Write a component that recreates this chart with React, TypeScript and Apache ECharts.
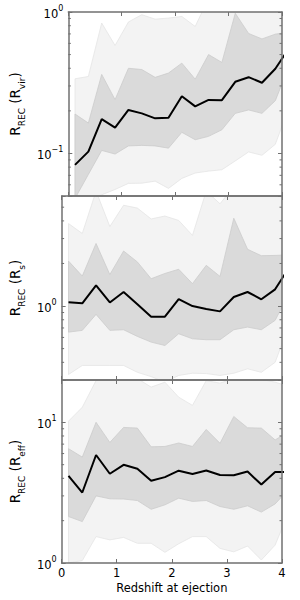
import React, { useEffect, useRef } from 'react';
import * as echarts from 'echarts';

// Redshift bin centres
const redshift = [0.125, 0.375, 0.625, 0.875, 1.125, 1.375, 1.625, 1.875, 2.125, 2.375, 2.625, 2.875, 3.125, 3.375, 3.625, 3.875, 4.125];
const xTicks = [0, 1, 2, 3, 4];

// Panel 1: R_REC in units of R_vir
const p1Median = [0.083, 0.103, 0.175, 0.152, 0.203, 0.192, 0.177, 0.179, 0.254, 0.215, 0.239, 0.238, 0.321, 0.346, 0.316, 0.397, 0.55];
const p1DarkUpper = [0.19, 0.164, 0.362, 0.24, 0.4, 0.392, 0.345, 0.37, 0.435, 0.335, 0.5, 0.44, 0.98, 0.705, 0.645, 0.697, 0.72];
const p1DarkLower = [0.048, 0.071, 0.105, 0.099, 0.113, 0.114, 0.113, 0.109, 0.141, 0.125, 0.132, 0.147, 0.192, 0.203, 0.192, 0.236, 0.41];
const p1LightUpper = [0.337, 0.35, 0.835, 0.58, 0.85, 0.957, 0.89, 0.906, 0.93, 0.79, 1.25, 1.3, 1.5, 1.5, 1.4, 1.4, 1.4];
const p1LightLower = [0.045, 0.046, 0.051, 0.0556, 0.0614, 0.0616, 0.0637, 0.0566, 0.0666, 0.0727, 0.075, 0.0767, 0.0885, 0.1025, 0.097, 0.116, 0.21];
const p1Range = [0.05, 1];
const p1Minor = [0.06, 0.07, 0.08, 0.09, 0.2, 0.3, 0.4, 0.5, 0.6, 0.7, 0.8, 0.9];

// Panel 2: R_REC in units of R_s
const p2Median = [1.062, 1.045, 1.4, 1.06, 1.257, 1.03, 0.841, 0.841, 1.12, 1.0, 0.952, 0.917, 1.158, 1.257, 1.116, 1.313, 1.86];
const p2DarkUpper = [2.08, 1.63, 2.77, 1.67, 2.45, 2.05, 1.56, 1.7, 1.82, 1.44, 1.94, 1.62, 4.18, 2.52, 2.27, 2.28, 2.3];
const p2DarkLower = [0.654, 0.673, 0.873, 0.673, 0.68, 0.61, 0.556, 0.526, 0.637, 0.587, 0.578, 0.578, 0.68, 0.71, 0.68, 0.792, 1.22];
const p2LightUpper = [3.83, 3.26, 6.5, 3.65, 5.16, 4.93, 4.13, 4.33, 4.03, 3.16, 6.5, 5.29, 7.0, 7.0, 6.6, 6.2, 5.5];
const p2LightLower = [0.328, 0.38, 0.38, 0.38, 0.38, 0.34, 0.317, 0.29, 0.323, 0.335, 0.333, 0.323, 0.335, 0.36, 0.34, 0.4, 0.73];
const p2Range = [0.3, 6];
const p2Minor = [0.4, 0.5, 0.6, 0.7, 0.8, 0.9, 2, 3, 4, 5];

// Panel 3: R_REC in units of R_eff
const p3Median = [4.17, 3.17, 5.86, 4.31, 4.99, 4.68, 3.84, 4.08, 4.53, 4.29, 4.55, 4.22, 4.2, 4.47, 3.61, 4.43, 4.43];
const p3DarkUpper = [6.5, 5.66, 10.0, 7.2, 9.2, 9.1, 6.7, 6.74, 7.13, 6.74, 8.9, 7.1, 11.0, 9.15, 9.1, 7.5, 8.6];
const p3DarkLower = [2.14, 1.97, 3.0, 2.86, 2.85, 2.78, 2.41, 2.59, 2.89, 2.74, 2.78, 2.52, 2.41, 2.55, 2.3, 2.63, 3.35];
const p3LightUpper = [10.2, 12.8, 19.8, 22, 21, 20.5, 17.8, 19.3, 15.1, 13.2, 19.8, 19, 20.5, 20.2, 20.2, 19.3, 18];
const p3LightLower = [1.0, 1.04, 1.54, 1.46, 1.52, 1.38, 1.38, 1.19, 1.37, 1.54, 1.54, 1.27, 1.2, 1.32, 1.05, 1.34, 2.32];
const p3Range = [1, 20];
const p3Minor = [2, 3, 4, 5, 6, 7, 8, 9];

const yNames = [
  ['R', 'REC', ' (R', 'vir', ')'],
  ['R', 'REC', ' (R', 's', ')'],
  ['R', 'REC', ' (R', 'eff', ')'],
];
const xName = 'Redshift at ejection';

const FRAME = '#707070';
const FONT = 'DejaVu Sans';
const LIGHT_FILL = '#f3f3f3';
const LIGHT_EDGE = '#e4e4e4';
const DARK_FILL = '#dadada';
const DARK_EDGE = '#cbcbcb';

function powLabel(v: number): string {
  const l = Math.log10(v);
  const e = Math.round(l);
  if (Math.abs(l - e) > 1e-6) return '';
  const exp = e < 0 ? '\u2212' + -e : String(e);
  return `{b|10}{s|${exp}}`;
}

export default function App() {
  const ref = useRef<HTMLDivElement>(null);
  useEffect(() => {
    if (!ref.current) return;
    const chart = echarts.init(ref.current, undefined, { renderer: 'svg' });

    const panels = [
      { median: p1Median, du: p1DarkUpper, dl: p1DarkLower, lu: p1LightUpper, ll: p1LightLower, range: p1Range, minor: p1Minor },
      { median: p2Median, du: p2DarkUpper, dl: p2DarkLower, lu: p2LightUpper, ll: p2LightLower, range: p2Range, minor: p2Minor },
      { median: p3Median, du: p3DarkUpper, dl: p3DarkLower, lu: p3LightUpper, ll: p3LightLower, range: p3Range, minor: p3Minor },
    ];
    const tops = [12, 196, 380];
    const heights = [184, 184, 183];

    const grid = panels.map((_, i) => ({ left: 54, right: 18, top: tops[i], height: heights[i], containLabel: false }));

    const xAxis: any[] = [];
    const yAxis: any[] = [];
    const series: any[] = [];

    panels.forEach((p, i) => {
      const common = {
        type: 'value',
        gridIndex: i,
        min: xTicks[0],
        max: xTicks[xTicks.length - 1],
        interval: 1,
        z: 10,
        splitLine: { show: false },
        axisLine: { show: true, onZero: false, lineStyle: { color: FRAME, width: 1.5 } },
        axisTick: { show: true, inside: true, length: 4, lineStyle: { color: FRAME, width: 1 } },
      };
      xAxis.push({
        ...common,
        position: 'bottom',
        axisLabel: { show: i === 2, margin: 4, fontSize: 11.5, fontFamily: FONT, color: '#000' },
        name: i === 2 ? xName : '',
        nameLocation: 'middle',
        nameGap: 19,
        nameTextStyle: { fontSize: 11.5, fontFamily: FONT, color: '#000' },
      });
      xAxis.push({ ...common, position: 'top', axisLabel: { show: false } });

      const n = yNames[i];
      const ycommon = {
        type: 'log',
        logBase: 10,
        gridIndex: i,
        min: p.range[0],
        max: p.range[1],
        z: 10,
        splitLine: { show: false },
        minorTick: { show: false },
        axisLine: { show: true, onZero: false, lineStyle: { color: FRAME, width: 1.5 } },
        axisTick: { show: true, inside: true, length: 4, lineStyle: { color: FRAME, width: 1 } },
      };
      yAxis.push({
        ...ycommon,
        position: 'left',
        axisLabel: {
          show: true,
          margin: 5,
          formatter: powLabel,
          rich: {
            b: { fontSize: 11.5, fontFamily: FONT, color: '#000', lineHeight: 16, verticalAlign: 'bottom' },
            s: { fontSize: 8, fontFamily: FONT, color: '#000', lineHeight: 8, verticalAlign: 'top' },
          },
        },
        name: `{m|${n[0]}}{sub|${n[1]}}{m|${n[2]}}{sub|${n[3]}}{m|${n[4]}}`,
        nameLocation: 'middle',
        nameRotate: 90,
        nameGap: 30,
        nameTextStyle: {
          rich: {
            m: { fontSize: 13.5, fontFamily: FONT, color: '#000', lineHeight: 18, verticalAlign: 'top' },
            sub: { fontSize: 9, fontFamily: FONT, color: '#000', lineHeight: 9, verticalAlign: 'bottom' },
          },
        },
      });
      yAxis.push({ ...ycommon, position: 'right', axisLabel: { show: false } });

      const band = (lower: number[], upper: number[], fill: string, stroke: string, z: number) => ({
        type: 'custom',
        xAxisIndex: 2 * i,
        yAxisIndex: 2 * i,
        z,
        silent: true,
        data: redshift.map((x, k) => [x, lower[k], upper[k]]),
        encode: { x: 0, y: [1, 2] },
        renderItem: (params: any, api: any) => {
          if (params.dataIndex !== 0) return null;
          const cs = params.coordSys;
          const pts: number[][] = [];
          for (let k = 0; k < redshift.length; k++) pts.push(api.coord([redshift[k], upper[k]]));
          for (let k = redshift.length - 1; k >= 0; k--) pts.push(api.coord([redshift[k], lower[k]]));
          return {
            type: 'polygon',
            shape: { points: pts },
            style: { fill, stroke, lineWidth: 0.8 },
            clipPath: { type: 'rect', shape: { x: cs.x, y: cs.y, width: cs.width, height: cs.height } },
          };
        },
      });
      series.push(band(p.ll, p.lu, LIGHT_FILL, LIGHT_EDGE, 1));
      series.push(band(p.dl, p.du, DARK_FILL, DARK_EDGE, 2));
      series.push({
        type: 'line',
        xAxisIndex: 2 * i,
        yAxisIndex: 2 * i,
        z: 4,
        silent: true,
        clip: true,
        showSymbol: false,
        symbol: 'none',
        data: redshift.map((x, k) => [x, p.median[k]]),
        lineStyle: { color: '#000', width: 2 },
      });
      series.push({
        type: 'custom',
        xAxisIndex: 2 * i,
        yAxisIndex: 2 * i,
        z: 11,
        silent: true,
        data: p.minor.map((v) => [xTicks[0], v]),
        encode: { x: 0, y: 1 },
        renderItem: (params: any, api: any) => {
          const cs = params.coordSys;
          const y = api.coord([xTicks[0], api.value(1)])[1];
          return {
            type: 'group',
            children: [
              { type: 'line', shape: { x1: cs.x, y1: y, x2: cs.x + 2.5, y2: y }, style: { stroke: FRAME, lineWidth: 1 } },
              { type: 'line', shape: { x1: cs.x + cs.width - 2.5, y1: y, x2: cs.x + cs.width, y2: y }, style: { stroke: FRAME, lineWidth: 1 } },
            ],
          };
        },
      });
    });

    chart.setOption({
      animation: false,
      backgroundColor: '#fff',
      grid,
      xAxis,
      yAxis,
      series,
    });
    return () => chart.dispose();
  }, []);
  return <div ref={ref} style={{ position: 'fixed', left: 0, top: 0, width: 300, height: 600 }} />;
}
